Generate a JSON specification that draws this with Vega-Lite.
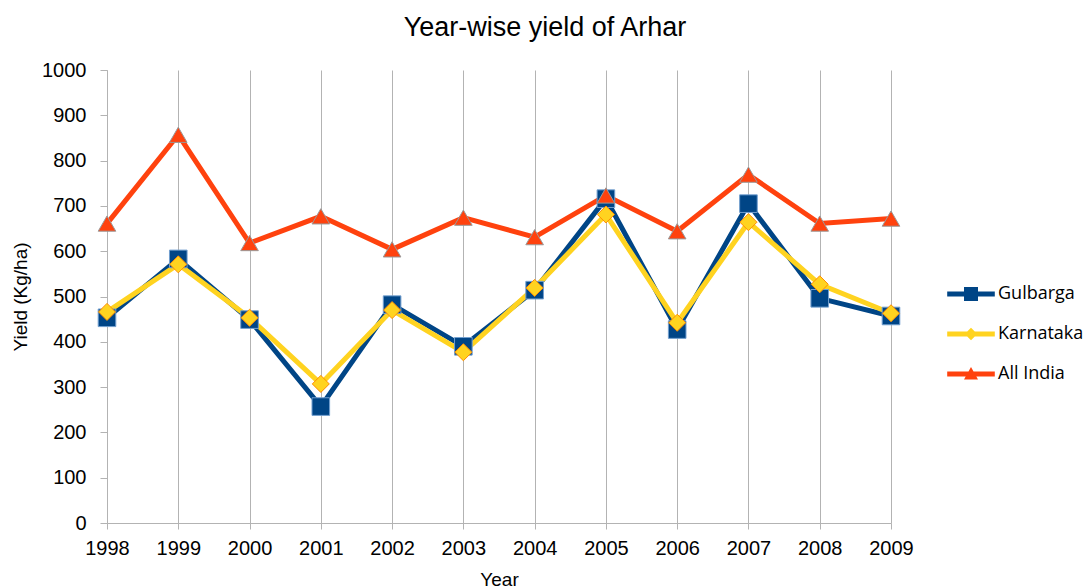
{
  "$schema": "https://vega.github.io/schema/vega-lite/v6.json",
  "autosize": "none",
  "width": 784,
  "height": 453,
  "padding": {"left": 107, "top": 70, "right": 197, "bottom": 65},
  "background": "white",
  "title": {"text": "Year-wise yield of Arhar", "fontSize": 27, "fontWeight": "normal", "font": "Liberation Sans", "color": "#000", "offset": 18, "dx": 46},
  "data": {"values": [
    {"Year": "1998", "Series": "Gulbarga", "Yield": 453},
    {"Year": "1999", "Series": "Gulbarga", "Yield": 583},
    {"Year": "2000", "Series": "Gulbarga", "Yield": 449},
    {"Year": "2001", "Series": "Gulbarga", "Yield": 257},
    {"Year": "2002", "Series": "Gulbarga", "Yield": 482},
    {"Year": "2003", "Series": "Gulbarga", "Yield": 390},
    {"Year": "2004", "Series": "Gulbarga", "Yield": 514},
    {"Year": "2005", "Series": "Gulbarga", "Yield": 716},
    {"Year": "2006", "Series": "Gulbarga", "Yield": 427},
    {"Year": "2007", "Series": "Gulbarga", "Yield": 705},
    {"Year": "2008", "Series": "Gulbarga", "Yield": 496},
    {"Year": "2009", "Series": "Gulbarga", "Yield": 457},
    {"Year": "1998", "Series": "Karnataka", "Yield": 466},
    {"Year": "1999", "Series": "Karnataka", "Yield": 571},
    {"Year": "2000", "Series": "Karnataka", "Yield": 453},
    {"Year": "2001", "Series": "Karnataka", "Yield": 307},
    {"Year": "2002", "Series": "Karnataka", "Yield": 470},
    {"Year": "2003", "Series": "Karnataka", "Yield": 377},
    {"Year": "2004", "Series": "Karnataka", "Yield": 519},
    {"Year": "2005", "Series": "Karnataka", "Yield": 681},
    {"Year": "2006", "Series": "Karnataka", "Yield": 442},
    {"Year": "2007", "Series": "Karnataka", "Yield": 664},
    {"Year": "2008", "Series": "Karnataka", "Yield": 527},
    {"Year": "2009", "Series": "Karnataka", "Yield": 463},
    {"Year": "1998", "Series": "All India", "Yield": 661},
    {"Year": "1999", "Series": "All India", "Yield": 857},
    {"Year": "2000", "Series": "All India", "Yield": 618},
    {"Year": "2001", "Series": "All India", "Yield": 677},
    {"Year": "2002", "Series": "All India", "Yield": 604},
    {"Year": "2003", "Series": "All India", "Yield": 674},
    {"Year": "2004", "Series": "All India", "Yield": 631},
    {"Year": "2005", "Series": "All India", "Yield": 723},
    {"Year": "2006", "Series": "All India", "Yield": 644},
    {"Year": "2007", "Series": "All India", "Yield": 769},
    {"Year": "2008", "Series": "All India", "Yield": 661},
    {"Year": "2009", "Series": "All India", "Yield": 672}
  ]},
  "encoding": {
    "x": {
      "field": "Year", "type": "ordinal",
      "scale": {"type": "point", "padding": 0},
      "axis": {"title": "Year", "titleFont": "Liberation Sans", "titleFontSize": 19, "titleFontWeight": "normal", "titleColor": "#000", "titlePadding": 12,
               "labelFont": "Liberation Sans", "labelFontSize": 20, "labelColor": "#000", "labelAngle": 0, "labelPadding": 9,
               "grid": true, "gridColor": "#b3b3b3", "domainColor": "#b3b3b3", "tickColor": "#b3b3b3", "tickSize": 6}
    },
    "y": {
      "field": "Yield", "type": "quantitative",
      "scale": {"domain": [0, 1000], "nice": false},
      "axis": {"title": "Yield (Kg/ha)", "titleFont": "Liberation Sans", "titleFontSize": 19, "titleFontWeight": "normal", "titleColor": "#000", "titlePadding": 11,
               "labelFont": "Liberation Sans", "labelFontSize": 20, "labelColor": "#000", "labelPadding": 14, "format": "d", "labelOverlap": false,
               "values": [0,100,200,300,400,500,600,700,800,900,1000],
               "grid": false, "domainColor": "#b3b3b3", "tickColor": "#b3b3b3", "tickSize": 7}
    },
    "color": {
      "field": "Series", "type": "nominal",
      "scale": {"domain": ["Gulbarga", "Karnataka", "All India"], "range": ["#004586", "#ffd320", "#ff420e"]},
      "legend": {"title": null, "orient": "none", "legendX": 855, "legendY": 215, "labelFont": "Open Sans", "labelFontSize": 18, "labelColor": "#000",
                 "rowPadding": 22, "symbolSize": 196, "labelOffset": 18, "symbolStrokeWidth": 0, "symbolOpacity": 1}
    }
  },
  "layer": [
    {"mark": {"type": "line", "strokeWidth": 5, "strokeJoin": "miter"}},
    {"transform": [{"filter": "datum.Series === 'Gulbarga'"}],
     "mark": {"type": "point", "filled": true, "size": 310, "opacity": 1, "strokeWidth": 1, "shape": "square", "stroke": "#729fcf"}},
    {"transform": [{"filter": "datum.Series === 'Karnataka'"}],
     "mark": {"type": "point", "filled": true, "size": 290, "opacity": 1, "strokeWidth": 1, "shape": "diamond", "stroke": "#ff8c00"}},
    {"transform": [{"filter": "datum.Series === 'All India'"}],
     "mark": {"type": "point", "filled": true, "size": 310, "opacity": 1, "strokeWidth": 1, "shape": "triangle-up", "stroke": "#999999"}},
    {"transform": [{"filter": "false"}],
     "mark": {"type": "point", "filled": true, "opacity": 1},
     "encoding": {
       "shape": {"field": "Series", "type": "nominal",
                 "scale": {"domain": ["Gulbarga", "Karnataka", "All India"],
                           "range": ["M-3.4,-0.36H3.4V0.36H-3.4Z M-1,-1H1V1H-1Z", "M-3.4,-0.36H3.4V0.36H-3.4Z M0,-0.9L0.9,0L0,0.9L-0.9,0Z", "M-3.4,-0.36H3.4V0.36H-3.4Z M0,-1L1,0.8H-1Z"]}}
     }}
  ],
  "config": {"view": {"stroke": null}}
}
